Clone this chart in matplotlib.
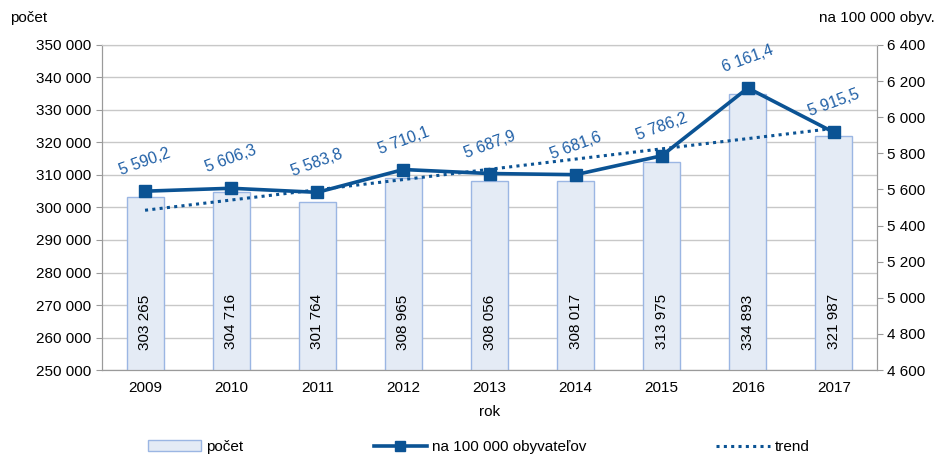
import matplotlib
matplotlib.use("Agg")
import matplotlib.pyplot as plt
import numpy as np
from matplotlib.ticker import FuncFormatter

plt.rcParams['font.family'] = ['Liberation Sans', 'DejaVu Sans']

years = ['2009', '2010', '2011', '2012', '2013', '2014', '2015', '2016', '2017']
pocet = [303265, 304716, 301764, 308965, 308056, 308017, 313975, 334893, 321987]
na100k = [5590.2, 5606.3, 5583.8, 5710.1, 5687.9, 5681.6, 5786.2, 6161.4, 5915.5]

line_col = '#0B5394'
lab_col = '#1F5FA6'
bar_face = '#E4EBF5'
bar_edge = '#9BB6E3'
grid_col = '#C8C8C8'
spine_col = '#9A9A9A'

def fmt_space(v, _=None):
    return f"{int(round(v)):,}".replace(',', ' ')

def fmt_dec(v):
    s = f"{v:,.1f}"
    s = s.replace(',', ' ').replace('.', ',')
    return s

fig = plt.figure(figsize=(9.4, 4.58), dpi=100)
ax = fig.add_axes([0.1085, 0.192, 0.8245, 0.71])
x = np.arange(len(years))

ax.bar(x, pocet, width=0.43, color=bar_face, edgecolor=bar_edge, linewidth=1.0, zorder=2, label='počet')
# linear trend (fit of the bar series)
coef = np.polyfit(x, pocet, 1)
trend = np.polyval(coef, x)
ax.set_ylim(250000, 350000)
ax.set_xlim(-0.5, len(years) - 0.5)
ax.set_yticks(np.arange(250000, 350001, 10000))
ax.yaxis.set_major_formatter(FuncFormatter(fmt_space))
ax.set_xticks(x)
ax.set_xticklabels(years)
ax.grid(axis='y', color=grid_col, linewidth=1.0, zorder=0)
ax.set_axisbelow(True)
ax.tick_params(axis='both', labelsize=11, colors='black', length=4, color=spine_col)
ax.tick_params(axis='x', length=0, pad=8)
for s in ax.spines.values():
    s.set_color(spine_col)
ax.spines['top'].set_color(grid_col)

for xi, v in zip(x, pocet):
    ax.text(xi, 0.148, fmt_space(v), transform=ax.get_xaxis_transform(),
            rotation=90, ha='center', va='center', fontsize=11, color='black', zorder=3)

ax2 = ax.twinx()
ax2.set_ylim(4600, 6400)
ax2.set_yticks(np.arange(4600, 6401, 200))
ax2.yaxis.set_major_formatter(FuncFormatter(fmt_space))
ax2.tick_params(axis='y', labelsize=11, colors='black', length=4, color=spine_col)
for s in ax2.spines.values():
    s.set_color(spine_col)
ax2.spines['top'].set_color(grid_col)

ax.plot(x, trend, linestyle=(0, (1, 1.4)), color=line_col, linewidth=2.2, zorder=4, label='trend')
ax2.plot(x, na100k, color=line_col, linewidth=2.6, marker='s', markersize=9, zorder=5,
         label='na 100 000 obyvateľov')

for xi, v in zip(x, na100k):
    ax2.annotate(fmt_dec(v), (xi, v), xytext=(0, 21), textcoords='offset points',
                 ha='center', va='center', rotation=20, fontsize=11.5, color=lab_col)

fig.text((102 + 877) / 2 / 940, 1 - 412/458, 'rok', ha='center', va='center', fontsize=11)
fig.text(10/940, 1 - 18/458, 'počet', ha='left', va='center', fontsize=11)
fig.text(935/940, 1 - 18/458, 'na 100 000 obyv.', ha='right', va='center', fontsize=11)

h1, l1 = ax.get_legend_handles_labels()
h2, l2 = ax2.get_legend_handles_labels()
handles = [h1[1], h2[0], h1[0]]
labels = [l1[1], l2[0], l1[0]]
fig.legend(handles, labels, loc='center left', bbox_to_anchor=(148/940, 11/458),
           ncol=3, frameon=False, fontsize=11, handlelength=3.5, handletextpad=0.33,
           columnspacing=8.5, borderpad=0, borderaxespad=0, markerscale=0.8)

fig.savefig('out.png', dpi=100)
